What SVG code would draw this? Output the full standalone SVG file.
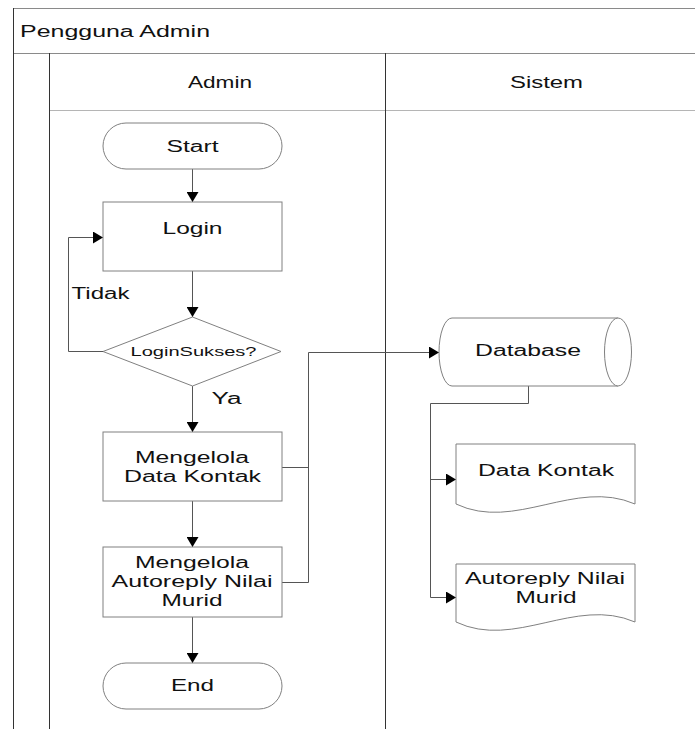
<svg xmlns="http://www.w3.org/2000/svg" width="695" height="729" viewBox="0 0 695 729">
  <style>
    .lbl { font-family: "Liberation Sans", Arial, sans-serif; font-size: 16px; fill: #111; }
    .small { font-size: 13px; }
    .shape { fill: #fff; stroke: #808080; stroke-width: 1; }
    .conn { fill: none; stroke: #555; stroke-width: 1; }
    .lane-v { stroke: #333; stroke-width: 1; fill: none; }
    .lane-h { stroke: #8a8a8a; stroke-width: 1.2; fill: none; }
    .lane-h2 { stroke: #b5b5b5; stroke-width: 1.2; fill: none; }
  </style>
  <defs>
    <marker id="arrow" viewBox="0 0 10 12" refX="10" refY="6" markerWidth="10" markerHeight="12" markerUnits="userSpaceOnUse" orient="auto">
      <path d="M0,0 L10,6 L0,12 Z" fill="#000"/>
    </marker>
  </defs>
  <rect width="695" height="729" fill="#fff"/>

  <!-- swimlane frame -->
  <g id="pool">
    <line class="lane-h" x1="13" y1="8.5" x2="695" y2="8.5"/>
    <line class="lane-h" x1="13" y1="53.5" x2="695" y2="53.5"/>
    <line class="lane-h2" x1="49" y1="110.5" x2="695" y2="110.5"/>
    <line class="lane-v" x1="13.5" y1="8" x2="13.5" y2="729"/>
    <line class="lane-v" x1="49.5" y1="53" x2="49.5" y2="729"/>
    <line class="lane-v" x1="385.5" y1="53" x2="385.5" y2="729"/>
    <text class="lbl" x="20" y="37" textLength="190" lengthAdjust="spacingAndGlyphs">Pengguna Admin</text>
    <text class="lbl" x="188" y="88" textLength="64" lengthAdjust="spacingAndGlyphs">Admin</text>
    <text class="lbl" x="510" y="88" textLength="73" lengthAdjust="spacingAndGlyphs">Sistem</text>
  </g>

  <!-- connectors -->
  <g id="connectors">
    <line class="conn" x1="192.5" y1="169" x2="192.5" y2="202" marker-end="url(#arrow)"/>
    <line class="conn" x1="192.5" y1="271" x2="192.5" y2="317" marker-end="url(#arrow)"/>
    <polyline class="conn" points="103,351.5 68.5,351.5 68.5,237.5 103,237.5" marker-end="url(#arrow)"/>
    <line class="conn" x1="192.5" y1="386" x2="192.5" y2="432" marker-end="url(#arrow)"/>
    <line class="conn" x1="192.5" y1="501" x2="192.5" y2="547" marker-end="url(#arrow)"/>
    <line class="conn" x1="192.5" y1="617" x2="192.5" y2="663" marker-end="url(#arrow)"/>
    <polyline class="conn" points="282,467.5 308.5,467.5"/>
    <polyline class="conn" points="282,582.5 308.5,582.5 308.5,352.5 439,352.5" marker-end="url(#arrow)"/>
    <polyline class="conn" points="528.5,386 528.5,403.5 430.5,403.5 430.5,597.5 456,597.5" marker-end="url(#arrow)"/>
    <line class="conn" x1="430.5" y1="479.5" x2="456" y2="479.5" marker-end="url(#arrow)"/>
    <text class="lbl" x="71.5" y="299" textLength="58" lengthAdjust="spacingAndGlyphs">Tidak</text>
    <text class="lbl" x="211.5" y="404" textLength="30" lengthAdjust="spacingAndGlyphs">Ya</text>
  </g>

  <g id="start">
    <rect class="shape" x="103" y="123" width="179" height="46" rx="23" ry="23"/>
    <text class="lbl" x="166.5" y="151.5" textLength="52" lengthAdjust="spacingAndGlyphs">Start</text>
  </g>

  <g id="login">
    <rect class="shape" x="103" y="202" width="179" height="69"/>
    <text class="lbl" x="162.5" y="234" textLength="60" lengthAdjust="spacingAndGlyphs">Login</text>
  </g>

  <g id="login-sukses">
    <polygon class="shape" points="192.5,317 281,351.5 192.5,386 103,351.5"/>
    <text class="lbl small" x="130.5" y="355.5" textLength="126" lengthAdjust="spacingAndGlyphs">LoginSukses?</text>
  </g>

  <g id="kelola-kontak">
    <rect class="shape" x="103" y="432" width="179" height="69"/>
    <text class="lbl" x="135" y="462.5" textLength="114" lengthAdjust="spacingAndGlyphs">Mengelola</text>
    <text class="lbl" x="124" y="481.5" textLength="137" lengthAdjust="spacingAndGlyphs">Data Kontak</text>
  </g>

  <g id="kelola-autoreply">
    <rect class="shape" x="103" y="547" width="179" height="70"/>
    <text class="lbl" x="135" y="567.5" textLength="114" lengthAdjust="spacingAndGlyphs">Mengelola</text>
    <text class="lbl" x="111.5" y="587" textLength="161" lengthAdjust="spacingAndGlyphs">Autoreply Nilai</text>
    <text class="lbl" x="161.5" y="606" textLength="61" lengthAdjust="spacingAndGlyphs">Murid</text>
  </g>

  <g id="end">
    <rect class="shape" x="103" y="663" width="179" height="46" rx="23" ry="23"/>
    <text class="lbl" x="171" y="691" textLength="43" lengthAdjust="spacingAndGlyphs">End</text>
  </g>

  <g id="database">
    <path class="shape" d="M452,318 H618 A13.5,34 0 0 1 618,386 H452 A13,34 0 0 1 452,318 Z"/>
    <path class="shape" d="M618,318 A13.5,34 0 0 0 618,386"/>
    <text class="lbl" x="475" y="356" textLength="106" lengthAdjust="spacingAndGlyphs">Database</text>
  </g>

  <g id="doc-kontak">
    <path class="shape" d="M456,444 H635 V504 C575,478 515,532 456,504 Z"/>
    <text class="lbl" x="478" y="475.5" textLength="136" lengthAdjust="spacingAndGlyphs">Data Kontak</text>
  </g>

  <g id="doc-autoreply">
    <path class="shape" d="M456,564 H635 V622 C575,596 515,650 456,622 Z"/>
    <text class="lbl" x="465" y="584" textLength="160" lengthAdjust="spacingAndGlyphs">Autoreply Nilai</text>
    <text class="lbl" x="515.5" y="603" textLength="61" lengthAdjust="spacingAndGlyphs">Murid</text>
  </g>
</svg>
